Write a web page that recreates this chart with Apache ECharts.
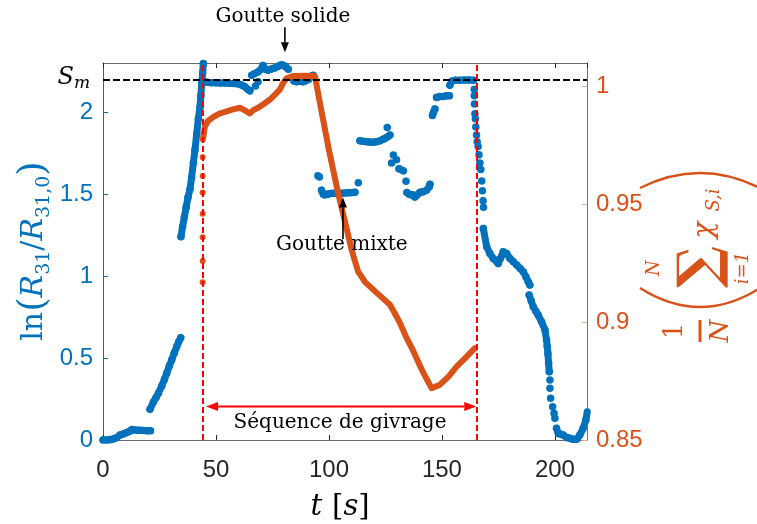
<!DOCTYPE html>
<html><head><meta charset="utf-8">
<script src="https://cdn.jsdelivr.net/npm/echarts@6/dist/echarts.min.js"></script>
<style>html,body{margin:0;padding:0;background:#fff}#c{width:757px;height:524px}</style>
</head><body><div id="c"></div>
<script>
// ---- axis settings ----
const xTicks = [0, 50, 100, 150, 200];
const leftTicks = [0, 0.5, 1, 1.5, 2];
const rightTicks = [0.85, 0.9, 0.95, 1];

// ---- blue series: ln(R31/R31,0) (left axis), continuous runs ----
const blueBase = [[0,0],[1.5,0],[3,0.002],[4.5,0.006],[6,0.014],[7.5,0.03],[9,0.037],[10.5,0.045],[12,0.055],[12.8,0.064],[13.5,0.062],[15,0.06],[16.5,0.059],[18,0.058],[19.5,0.057],[21,0.057]];
const blueRise1 = [[20.8,0.187],[22.3,0.232],[23.5,0.26],[24.5,0.285],[26,0.33],[27.2,0.37],[28.2,0.407],[29.3,0.45],[30.4,0.488],[31.5,0.53],[32.6,0.569],[33.5,0.6],[34.4,0.624]];
const blueRise2 = [[34.5,1.24],[35.2,1.3],[36,1.36],[36.8,1.42],[37.6,1.48],[38.5,1.53],[39.2,1.6],[40,1.69],[40.7,1.77],[41.5,1.87],[42.2,1.96],[42.9,2.03],[43.3,2.1],[43.7,2.175],[44.1,2.24],[44.4,2.297]];
const bluePlateau = [[44.6,2.185],[46,2.182],[48,2.18],[50,2.18],[52,2.178],[54,2.178],[56,2.176],[58,2.175],[60,2.172],[61.5,2.165],[62.8,2.155],[64,2.14],[65,2.13]];
const blueSolid = [[65.8,2.225],[67,2.235],[68.5,2.245],[70,2.262],[70.8,2.285],[72,2.262],[73,2.256],[74.5,2.264],[76,2.27],[77.5,2.28],[79,2.29],[80,2.285],[81,2.275],[82,2.262]];
const blueTop2 = [[84.5,2.19],[85.7,2.185],[87,2.188],[88.5,2.185],[89.5,2.19],[91,2.2],[92.3,2.22],[93,2.225]];
const blueMix1 = [[96.7,1.524],[97.5,1.5],[98.2,1.494],[99.5,1.5],[100.4,1.504],[102,1.505],[103.4,1.504],[105,1.505],[106.3,1.506],[108,1.508],[109.3,1.508],[110.5,1.51],[111.5,1.512]];
const blueMix2 = [[113.7,1.825],[115,1.822],[116.7,1.82],[118,1.818],[119.6,1.816],[121,1.82],[122.6,1.825],[124,1.835],[124.8,1.84],[126,1.85],[127,1.86]];
const blueMix3 = [[131,1.655],[132.9,1.642]];
const blueMix4 = [[134.5,1.51],[135.5,1.5],[136.5,1.496],[137.3,1.494],[138,1.482],[139,1.495],[140.3,1.512],[141.7,1.514],[143.2,1.524],[144.4,1.545],[144.7,1.56]];
const blueMix5 = [[145.8,1.98],[146.3,2.0],[146.9,2.02]];
const blueMix6 = [[147.6,2.09],[149,2.095],[150.5,2.095],[152,2.1],[153.3,2.1]];
const blueTop3 = [[153.5,2.165],[154.5,2.19],[156,2.195],[158,2.195],[160,2.196],[162,2.196],[164,2.195]];
const blueFall1 = [[168.3,1.291],[169.8,1.179],[171.2,1.138],[172.7,1.108],[174.9,1.077],[176,1.11],[177.1,1.148],[178.6,1.138],[180.1,1.108],[181.6,1.088],[183.1,1.067],[184.6,1.047],[186,1.026],[187.2,0.995],[188.2,0.965],[188.9,0.945]];
const blueFall2 = [[188.6,0.884],[189.5,0.85],[190.4,0.813],[191.5,0.787],[192.6,0.762],[194.1,0.721],[195.6,0.671],[196.3,0.61],[196.6,0.57],[196.9,0.528],[197.2,0.468],[197.5,0.417]];
const blueBottom = [[200.7,0.071],[201.5,0.04],[202.6,0.035],[203.7,0.03],[205.2,0.015],[206.6,0.01],[208,0.004],[209.6,0.004],[211,0.03],[212.5,0.071],[213.7,0.122],[214.3,0.172]];
// isolated blue points
const blueDots = [[67.5,2.16],[68.6,2.185],[95.1,1.612],[95.8,1.605],[113,1.57],[125.8,1.907],[128.5,1.738],[129.9,1.71],[127.7,1.69],[134.1,1.579],
  [164.3,2.14],[164.3,2.1],[164.4,2.05],[164.6,1.99],[164.8,1.96],[165,1.91],[165.3,1.86],[165.6,1.82],[166,1.79],[166.4,1.74],[166.8,1.69],[167.2,1.65],[167.6,1.58],[167.9,1.52],[168.2,1.46],[168.4,1.42],
  [197.8,0.366],[197.8,0.315],[198.1,0.254],[199,0.203],[199.6,0.163],[200,0.132]];
const blueRuns = [blueBase, blueRise1, blueRise2, bluePlateau, blueSolid, blueTop2, blueMix1, blueMix2, blueMix3, blueMix4, blueMix5, blueMix6, blueTop3, blueFall1, blueFall2, blueBottom];

// ---- orange series: mean solid fraction (right axis) ----
const orangeLine = [[44.2,0.9775],[45.1,0.983],[46.5,0.9855],[48.7,0.987],[51.5,0.9885],[54.7,0.9895],[57.5,0.9903],[60.6,0.991],[63,0.9898],[65,0.9886],[66.5,0.990],[68.6,0.991],[71,0.9925],[73.9,0.9945],[76,0.9965],[78.3,0.9988],[80,1.002],[81.3,1.0035],[84,1.0045],[89,1.0046],[93.8,1.0045],[96,0.993],[100,0.973],[104,0.955],[108,0.939],[110,0.9308],[112.9,0.9215],[116,0.917],[119.6,0.9138],[124,0.910],[127,0.9074],[129,0.904],[131.4,0.8997],[134,0.894],[137.2,0.888],[141,0.880],[145.4,0.872],[149,0.8734],[153,0.877],[156.5,0.8811],[160.5,0.885],[164.6,0.889]];
const orangeDots = [[44.1,0.917],[44.1,0.926],[44.1,0.936],[44.1,0.946],[44.1,0.955],[44.1,0.962],[44.1,0.97]];

// ---- reference lines / annotations (data coordinates) ----
const smLevel = 2.2;
const icingStart = 44.1, icingEnd = 165.2;
const icingArrow = {t0: 45.6, t1: 165.2, v: 0.204};
const annSolide = {text: 'Goutte solide', t: 79.6, v: 2.58, arrowT: 80.5, from: 2.518, to: 2.366};
const annMixte = {text: 'Goutte mixte', t: 105.7, v: 1.19, arrowT: 106.2, from: 1.225, to: 1.48};
const annSeq = {text: 'Séquence de givrage', t: 104.9, v: 0.104};

const BLUE = '#0072BD', ORANGE = '#D95319', RED = '#FF0000', AX = '#262626';
const SERIF = 'DejaVu Serif';
const SANS = 'Liberation Sans, Arial, sans-serif';

const chart = echarts.init(document.getElementById('c'), null, {renderer: 'canvas'});

const blueSeries = blueRuns.map((run, i) => ({
  type: 'line', xAxisIndex: 0, yAxisIndex: 0, data: run,
  showSymbol: true, symbol: 'circle', symbolSize: 7.5,
  itemStyle: {color: BLUE}, lineStyle: {color: BLUE, width: 7, cap: 'round', join: 'round'},
  silent: true, z: 2, clip: true,
  markLine: i === 0 ? {
    silent: true, symbol: 'none', label: {show: false}, animation: false,
    data: [
      {yAxis: smLevel, lineStyle: {color: '#000', type: [7, 3], width: 2}},
      {xAxis: icingStart, lineStyle: {color: RED, type: [6, 3], width: 2}},
      {xAxis: icingEnd, lineStyle: {color: RED, type: [6, 3], width: 2}}
    ]
  } : undefined
}));

const option = {
  animation: false,
  backgroundColor: '#fff',
  grid: {left: 103, right: 170, top: 63, bottom: 84, containLabel: false},
  xAxis: [{
    type: 'value', position: 'bottom', min: xTicks[0], max: 214.2, interval: 50,
    axisLine: {show: true, onZero: false, lineStyle: {color: '#6b6b6b', width: 1}},
    axisTick: {show: true, inside: true, length: 5, lineStyle: {color: AX}},
    axisLabel: {color: AX, fontSize: 24, fontFamily: SANS, margin: 18, showMaxLabel: false},
    splitLine: {show: false}
  }, {
    type: 'value', position: 'top', min: xTicks[0], max: 214.2, interval: 50,
    axisLine: {show: true, onZero: false, lineStyle: {color: '#6b6b6b', width: 1}},
    axisTick: {show: true, inside: true, length: 5, lineStyle: {color: AX}},
    axisLabel: {show: false}, splitLine: {show: false}
  }],
  yAxis: [{
    type: 'value', position: 'left', min: leftTicks[0], max: 2.3, interval: 0.5,
    axisLine: {show: true, onZero: false, lineStyle: {color: BLUE, width: 1}},
    axisTick: {show: true, inside: true, length: 5, lineStyle: {color: BLUE}},
    axisLabel: {color: BLUE, fontSize: 24, fontFamily: SANS, margin: 10, showMaxLabel: false},
    splitLine: {show: false}
  }, {
    type: 'value', position: 'right', min: rightTicks[0], max: 1.0100, interval: 0.05,
    axisLine: {show: true, onZero: false, lineStyle: {color: ORANGE, width: 1}},
    axisTick: {show: true, inside: true, length: 5, lineStyle: {color: '#EBA98C'}},
    axisLabel: {color: ORANGE, fontSize: 24, fontFamily: SANS, margin: 9, showMaxLabel: false},
    splitLine: {show: false}
  }],
  series: [
    ...blueSeries,
    {type: 'scatter', xAxisIndex: 0, yAxisIndex: 0, data: blueDots, symbolSize: 7.5,
      itemStyle: {color: BLUE, opacity: 1}, silent: true, z: 2},
    {type: 'line', xAxisIndex: 0, yAxisIndex: 1, data: orangeLine, showSymbol: false,
      lineStyle: {color: ORANGE, width: 6, join: 'round', cap: 'round'}, silent: true, z: 3},
    {type: 'scatter', xAxisIndex: 0, yAxisIndex: 1, data: orangeDots, symbolSize: 6,
      itemStyle: {color: ORANGE, opacity: 1}, silent: true, z: 3}
  ]
};
chart.setOption(option);

const px = (t, v) => chart.convertToPixel({xAxisIndex: 0, yAxisIndex: 0}, [t, v]);

function arrowHead(p0, p1, color, w, headL, headW) {
  const dx = p1[0] - p0[0], dy = p1[1] - p0[1];
  const L = Math.hypot(dx, dy), ux = dx / L, uy = dy / L;
  const bx = p1[0] - ux * headL, by = p1[1] - uy * headL;
  return [
    {type: 'line', z: 100, shape: {x1: p0[0], y1: p0[1], x2: bx, y2: by}, style: {stroke: color, lineWidth: w}},
    {type: 'polygon', z: 100, shape: {points: [p1, [bx - uy * headW / 2, by + ux * headW / 2], [bx + uy * headW / 2, by - ux * headW / 2]]}, style: {fill: color}}
  ];
}

const g = [];
// S_m label
const smP = px(0, smLevel);
g.push({type: 'text', z: 100, x: smP[0] - 13, y: smP[1] - 2,
  style: {text: '{s|S}{m|m}', align: 'right', verticalAlign: 'middle',
    rich: {s: {fontFamily: SERIF, fontStyle: 'italic', fontSize: 24, lineHeight: 30, fill: '#000'},
           m: {fontFamily: SERIF, fontStyle: 'italic', fontSize: 17, lineHeight: 20, verticalAlign: 'bottom', fill: '#000'}}}});

// annotation texts
[annSolide, annMixte, annSeq].forEach(a => {
  const p = px(a.t, a.v);
  g.push({type: 'text', z: 100, x: p[0], y: p[1],
    style: {text: a.text, align: 'center', verticalAlign: 'middle', fontFamily: SERIF, fontSize: 20, fill: '#000'}});
});
// black arrows
[annSolide, annMixte].forEach(a => {
  g.push(...arrowHead(px(a.arrowT, a.from), px(a.arrowT, a.to), '#000', 1.6, 10, 8));
});
// red double arrow
const mid = px((icingArrow.t0 + icingArrow.t1) / 2, icingArrow.v);
g.push(...arrowHead(mid, px(icingArrow.t0, icingArrow.v), RED, 2, 12, 9));
g.push(...arrowHead(mid, px(icingArrow.t1, icingArrow.v), RED, 2, 12, 9));

// left axis title (rotated)
g.push({type: 'text', z: 100, x: 34, y: 251, rotation: Math.PI / 2,
  style: {text: '{u|ln}{p|(}{i|R}{s|31}{u|/}{i|R}{s|31,0}{p|)}', align: 'center', verticalAlign: 'middle',
    rich: {
      u: {fontFamily: SERIF, fontSize: 30, lineHeight: 40, fill: BLUE},
      p: {fontFamily: SERIF, fontSize: 37, lineHeight: 40, fill: BLUE},
      i: {fontFamily: SERIF, fontStyle: 'italic', fontSize: 30, lineHeight: 40, fill: BLUE},
      s: {fontFamily: SERIF, fontSize: 19, lineHeight: 24, verticalAlign: 'bottom', fill: BLUE}
    }}});

// x axis title
g.push({type: 'text', z: 100, x: 340, y: 507,
  style: {text: '{i|t}{sp| }{u|[}{i|s}{u|]}', align: 'center', verticalAlign: 'middle',
    rich: {i: {fontFamily: SERIF, fontStyle: 'italic', fontSize: 29, fill: '#000'},
           sp: {fontFamily: SERIF, fontSize: 29, width: 10},
           u: {fontFamily: SERIF, fontSize: 29, fill: '#000'}}}});

// right axis title pieces (rotated 90° CCW)
const R = Math.PI / 2;
const rt = (txt, x, y, size, italic, weight) => ({type: 'text', z: 100, x, y, rotation: R,
  style: {text: txt, align: 'center', verticalAlign: 'middle', fontFamily: SERIF, fontSize: size,
    fontStyle: italic ? 'italic' : 'normal', fontWeight: weight || 'normal', fill: ORANGE}});
g.push(rt('1', 675, 331, 26, false));
g.push({type: 'line', z: 100, shape: {x1: 700, y1: 320, x2: 700, y2: 342}, style: {stroke: ORANGE, lineWidth: 3}});
g.push(rt('N', 721, 331, 26, true));
g.push(rt('\u2211', 702, 267, 56, false, 'bold'));
g.push(rt('N', 654, 268, 18, true));
g.push(rt('i=1', 743, 268, 18, true));
g.push(rt('\u03C7', 705, 230, 28, true));
g.push(rt('S,i', 714, 200, 18, true));
g.push({type: 'bezierCurve', z: 100, shape: {x1: 640, y1: 288, cpx1: 700, cpy1: 326, x2: 760, y2: 288}, style: {stroke: ORANGE, lineWidth: 2.5, fill: null}});
g.push({type: 'bezierCurve', z: 100, shape: {x1: 640, y1: 188, cpx1: 700, cpy1: 158, x2: 760, y2: 188}, style: {stroke: ORANGE, lineWidth: 2.5, fill: null}});

chart.setOption({graphic: g});
</script>
</body></html>
